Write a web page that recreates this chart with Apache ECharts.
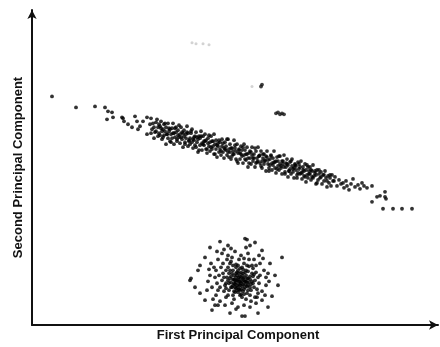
<!DOCTYPE html>
<html>
<head>
<meta charset="utf-8">
<script src="https://cdn.jsdelivr.net/npm/echarts@6/dist/echarts.min.js"></script>
<style>
  html, body { margin: 0; padding: 0; background: #fff; }
  #chart { width: 440px; height: 347px; }
</style>
</head>
<body>
<div id="chart"></div>
<script>
// scores (arbitrary units, no ticks on the original)
const xName = "First Principal Component"
const yName = "Second Principal Component"

// long diagonal group, sparse left end
const bandLeft = [
  [52,230],[76,219],[95,220],[105,219],[108,215],[112,214],[107,207],[113,209],[122,209],[123,208],
  [124,205],[128,202],[132,199],[135,210],[137,205],[140,200],[138,197],[143,205],[147,209],[147,192]
]

// long diagonal group, dense part
const band = [
  [150,202],[151,193],[151,208],[152,197],[153,203],[154,188],[154,199],[155,194],[156,204],[156,195],[157,207],[158,190],[158,199],[159,193],[159,202],
  [160,191],[160,200],[161,205],[162,195],[162,187],[163,197],[164,202],[164,191],[165,195],[166,182],[166,199],[167,192],[168,203],[168,188],[169,195],
  [170,197],[170,185],[171,192],[172,198],[172,188],[173,203],[174,193],[174,182],[175,189],[176,194],[176,199],[177,185],[178,191],[178,196],[179,189],
  [180,192],[180,183],[181,199],[182,187],[182,194],[183,179],[184,190],[184,196],[185,184],[186,192],[186,188],[187,200],[188,180],[188,193],[189,186],
  [190,188],[190,182],[191,193],[192,184],[192,197],[193,178],[194,189],[194,186],[195,190],[196,179],[196,194],[197,184],[198,187],[198,174],[199,190],
  [200,181],[200,188],[201,195],[202,183],[202,176],[203,190],[204,181],[204,185],[205,192],[206,177],[206,186],[207,173],[208,183],[208,188],[209,180],
  [210,184],[210,175],[211,190],[212,177],[212,185],[213,180],[214,192],[214,172],[215,182],[216,177],[216,186],[217,169],[218,180],[218,183],[219,174],
  [220,184],[220,177],[221,171],[222,180],[222,187],[223,174],[224,178],[224,168],[225,184],[226,176],[226,180],[227,171],[228,187],[228,174],[229,177],
  [230,174],[230,182],[231,167],[232,178],[232,170],[233,175],[234,186],[234,172],[235,178],[236,167],[236,175],[237,182],[238,173],[238,163],[239,176],
  [240,173],[240,167],[241,180],[242,170],[242,176],[243,163],[244,182],[244,171],[245,176],[246,166],[246,172],[247,179],[248,168],[248,159],[249,173],
  [250,175],[250,168],[251,162],[252,171],[252,179],[253,165],[254,172],[254,168],[255,159],[256,175],[256,163],[257,168],[258,179],[258,165],[259,170],
  [260,163],[260,171],[261,175],[262,165],[262,158],[263,168],[264,172],[264,162],[265,166],[266,155],[266,170],[267,175],[268,162],[268,166],[269,158],
  [270,167],[270,161],[271,171],[272,163],[272,156],[273,168],[274,164],[274,175],[275,158],[276,165],[276,153],[277,169],[278,160],[278,165],[279,156],
  [280,162],[280,170],[281,158],[282,165],[282,152],[283,162],[284,159],[284,171],[285,154],[286,163],[286,159],[287,167],[288,149],[288,161],[289,155],
  [290,164],[290,157],[291,152],[292,160],[292,167],[293,154],[294,158],[294,148],[295,162],[296,156],[296,160],[297,151],[298,164],[298,153],[299,157],
  [300,152],[300,159],[301,165],[302,153],[302,147],[303,159],[304,155],[304,150],[305,162],[306,144],[306,156],[307,151],[308,159],[308,148],[309,155],
  [310,152],[310,159],[311,146],[312,155],[312,149],[313,161],[314,150],[315,155],[316,142],[316,151],[317,156],[318,146],[319,152],
  [320,148],[321,154],[322,142],[323,151],[324,145],[325,155],[326,148],[327,139],[328,150],[329,143],
  [330,148],[331,140],[332,151],[334,145],[335,149],[337,140],[339,146],[341,142],
  [161,198],[163,189],[165,203],[167,192],[169,198],[171,184],[173,193],[175,198],[177,187],[179,201],
  [181,189],[183,193],[185,182],[187,194],[189,185],[191,195],[193,187],[195,181],[197,189],[199,176],
  [201,190],[203,182],[205,185],[207,177],[209,191],[211,179],[213,185],[215,172],[217,181],[219,186],
  [221,175],[223,183],[225,177],[227,187],[229,169],[231,178],[233,172],[235,181],[237,165],[239,177],
  [241,172],[243,179],[245,167],[247,172],[249,163],[251,174],[253,168],[255,178],[257,164],[259,170],
  [261,160],[263,172],[265,165],[267,169],[269,155],[271,170],[273,161],[275,164],[277,157],[279,170],
  [281,160],[283,165],[285,152],[287,162],[289,155],[291,165],[293,157],[295,161],[297,148],[299,162],
  [301,153],[303,156],[305,149],[307,161],[309,152],[311,156],[313,148],[315,153],[317,143],[319,156],
  [321,149],[324,151],[327,145],[330,151],[333,145]
]

// right-hand tail of the diagonal group
const bandRight = [
  [343,143],[344,138],[346,145],[347,140],[349,136],[351,142],[353,147],[355,139],[358,141],[360,137],
  [362,143],[364,140],[367,138],[372,140],[377,129],[380,130],[385,134],[385,129],[386,127],[372,124],
  [383,117],[393,117],[402,117],[412,117]
]

// round group at the bottom
const blob = [
  [190,45],[191,47],[200,32],[198,55],[205,68],[210,78],[220,84],[245,87],[247,86],[250,80],
  [282,68],[275,50],[272,29],[268,18],[258,12],[242,9],[245,9],[230,12],[215,20],[205,25],
  [200,60],[195,38],[262,75],[255,83],[228,80],[212,15],[278,40],[270,62],
  [210,50],[212,38],[214,58],[216,30],[218,66],[220,24],[222,72],[225,20],[228,70],[232,22],
  [235,74],[238,18],[241,70],[244,20],[248,72],[251,24],[254,66],[257,28],[260,62],[262,34],
  [264,55],[266,40],[266,48],[208,44],[211,62],[213,26],[224,76],[236,16],[250,18],[259,70],
  [265,30],[268,52],[207,35],[209,56],[217,74],[231,77],[246,78],[256,22],[263,67],[269,44],
  [262,25],[218,20],
  [225,40],[227,48],[229,35],[230,55],[231,43],[233,30],[234,50],[235,38],[236,58],[237,45],
  [238,33],[239,52],[240,40],[241,47],[242,28],[243,56],[244,36],[245,44],[246,50],[247,32],
  [248,40],[249,59],[250,46],[251,35],[252,52],[253,42],[226,55],[228,30],[230,62],[232,38],
  [234,26],[236,48],[238,60],[240,30],[242,50],[244,62],[246,26],[248,54],[250,30],[252,60],
  [254,38],[222,45],[223,52],[224,34],[226,28],[228,58],[231,64],[233,46],[235,33],[237,40],
  [239,44],[241,36],[243,41],[245,38],[247,47],[249,43],[251,41],[253,49],[255,45],[256,53],
  [257,36],[258,48],[220,38],[221,58],[219,50],[217,42],[215,48],[216,55],[218,35],[223,62],
  [227,66],[232,68],[239,66],[244,67],[249,66],[253,57],[256,60],[259,42],[260,50],[258,32],
  [255,28],[233,55],[236,52],[240,57],[237,35],[241,42],[243,47],[245,53],[247,39],[229,42],
  [231,49],[234,42],[238,38],[242,44],[246,44],[250,49],[235,45],[239,48],[244,31],[226,37],
  [248,35],
  [236,43],[240,44],[238,46],[242,39],[234,46],[237,50],[241,53],[244,48],[233,40],[239,36],
  [243,34],[247,43],[230,47],[235,41],[240,49],[245,41],[232,52],[236,37],[241,31],[246,55],
  [228,45],[250,38],[238,55],[243,52],[234,34],[248,47],[231,38],[239,41],[237,53],[244,45],
  [229,52],[252,44],[240,35],[236,61],[226,42],[254,51],[242,58],[233,60],[247,60],[224,48]
]

// small groups above the diagonal
const smallDark = [[261,240],[262,242],[276,213],[278,214],[280,212],[282,213],[284,212]]
const smallFaint = [[192,284],[196,283],[203,283],[209,282],[252,240]]

const chartDom = document.getElementById("chart")
const myChart = echarts.init(chartDom, null, { renderer: "canvas" })

const axisFont = "'Liberation Sans', Arial, sans-serif"

const dotSeries = (data, color, size) => ({
  type: "scatter",
  data: data,
  symbol: "circle",
  symbolSize: size,
  itemStyle: { color: color },
  silent: true,
  animation: false,
})

const option = {
  animation: false,
  backgroundColor: "#fff",
  grid: { left: 32, right: 2, top: 10, bottom: 20, containLabel: false },
  xAxis: {
    type: "value",
    min: 32,
    max: 438,
    name: xName,
    nameLocation: "middle",
    nameGap: 4,
    nameTextStyle: {
      color: "#111",
      fontFamily: axisFont,
      fontWeight: "bold",
      fontSize: 13,
      verticalAlign: "top",
      padding: [0, 0, 0, 6],
    },
    axisLine: {
      show: true,
      onZero: false,
      symbol: ["none", "arrow"],
      symbolSize: [7, 9],
      lineStyle: { color: "#111", width: 2 },
    },
    axisTick: { show: false },
    axisLabel: { show: false },
    splitLine: { show: false },
  },
  yAxis: {
    type: "value",
    min: 0,
    max: 317,
    name: yName,
    nameLocation: "middle",
    nameGap: 7,
    nameTextStyle: {
      color: "#111",
      fontFamily: axisFont,
      fontWeight: "bold",
      fontSize: 13,
    },
    axisLine: {
      show: true,
      onZero: false,
      symbol: ["none", "arrow"],
      symbolSize: [7, 9],
      lineStyle: { color: "#111", width: 2 },
    },
    axisTick: { show: false },
    axisLabel: { show: false },
    splitLine: { show: false },
  },
  series: [
    dotSeries(smallFaint, "#c8c8c8", 3),
    dotSeries(bandLeft, "#000", 3.8),
    dotSeries(band, "#000", 3.8),
    dotSeries(bandRight, "#000", 3.8),
    dotSeries(blob, "#000", 3.8),
    dotSeries(smallDark, "#111", 3.8),
  ],
}

myChart.setOption(option)
</script>
</body>
</html>
